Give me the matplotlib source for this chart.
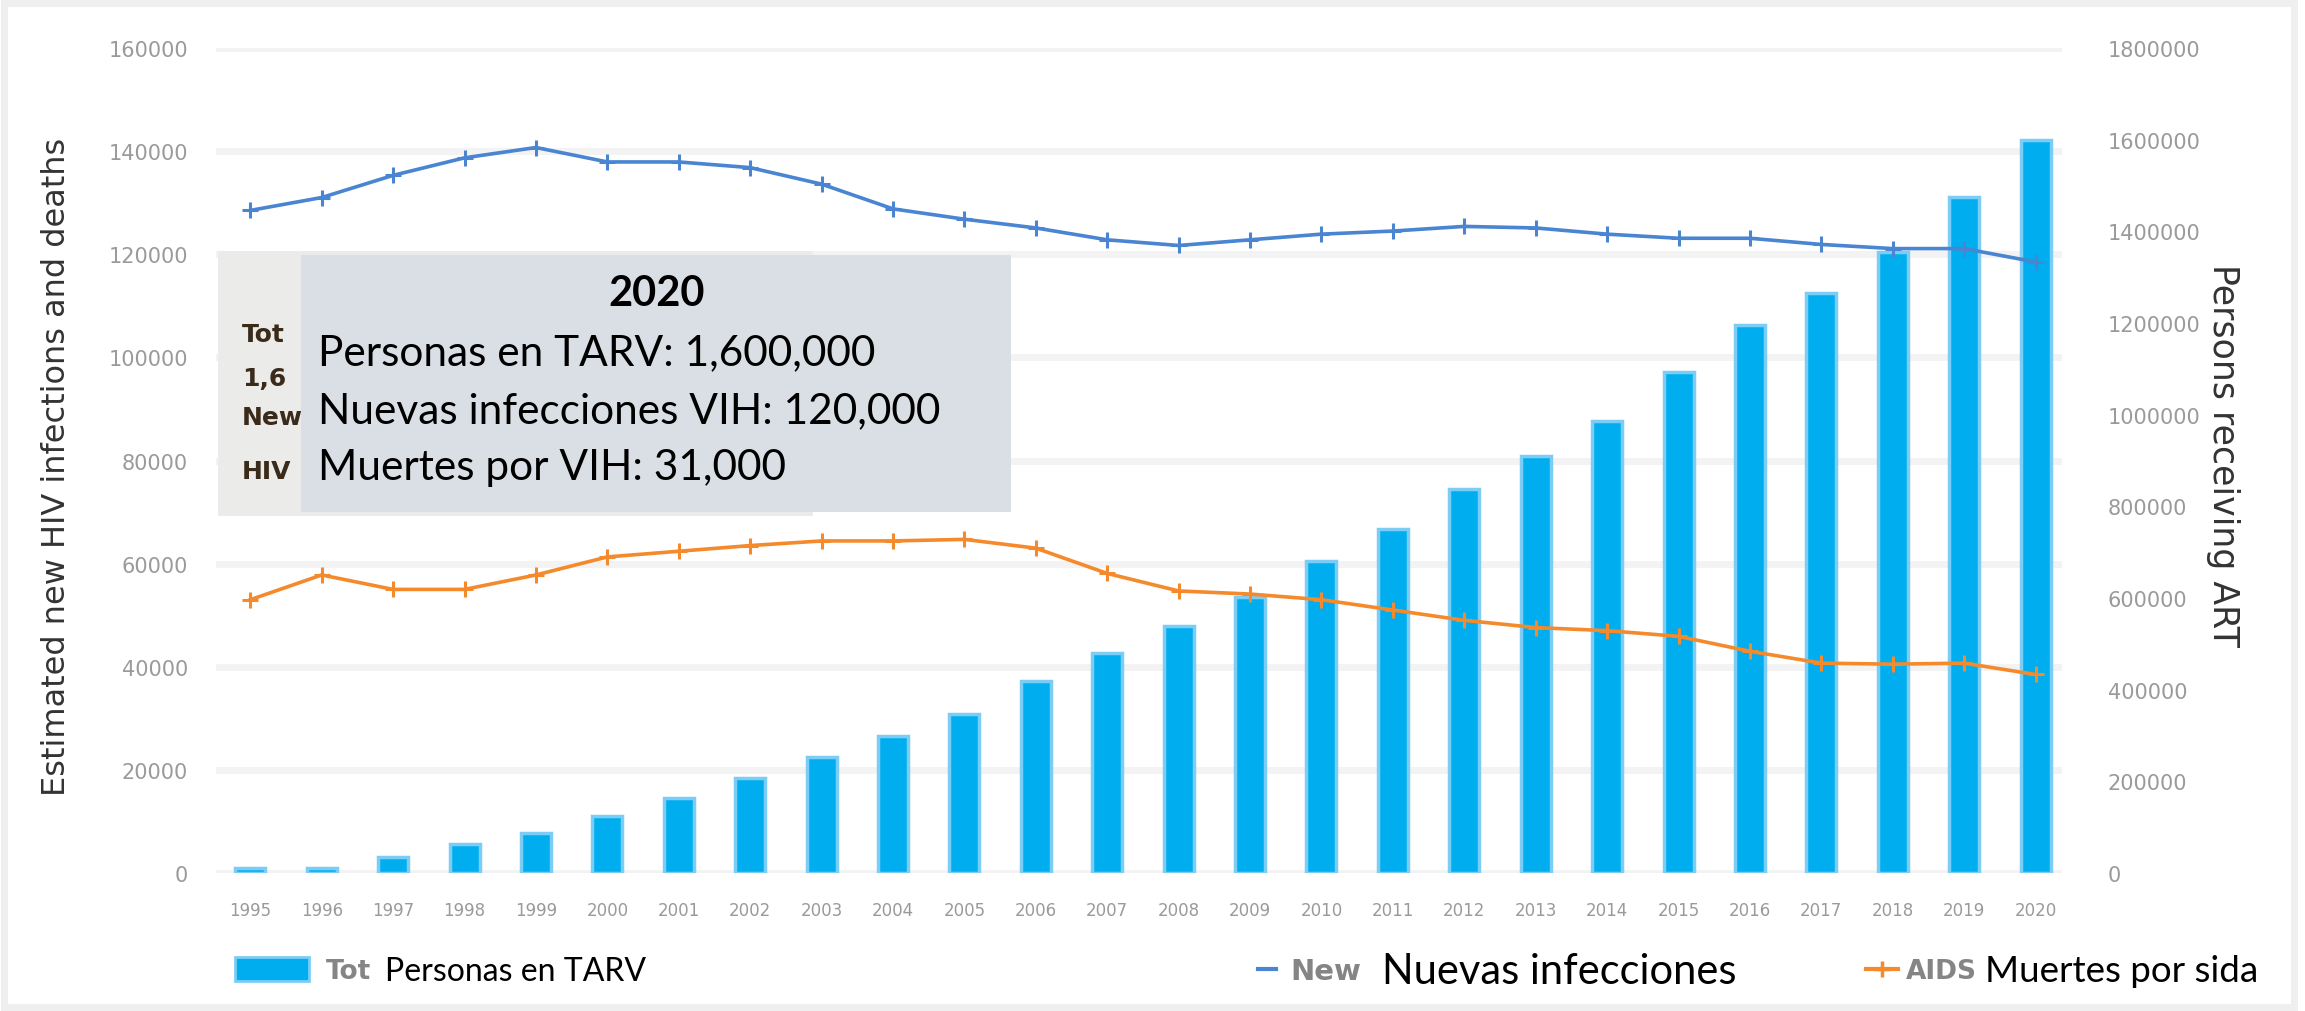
import matplotlib
matplotlib.use("Agg")
import matplotlib.pyplot as plt
from matplotlib.patches import Rectangle
from matplotlib.lines import Line2D
from matplotlib.transforms import blended_transform_factory

years = list(range(1995, 2021))
art_persons = [10000, 12000, 35000, 64000, 87000, 125000, 163000, 208000, 253000,
               298000, 346000, 420000, 481000, 538000, 603000, 680000, 750000, 837000,
               910000, 987000, 1093000, 1196000, 1266000, 1356000, 1474000, 1600000]
new_infections = [128500, 131000, 135300, 138700, 140700, 137900, 137900, 136800, 133600,
                  128800, 126800, 125100, 122800, 121700, 122800, 123900, 124500, 125400,
                  125100, 123900, 123100, 123100, 121900, 121100, 121100, 118500]
aids_deaths = [53000, 57800, 55000, 55000, 57800, 61300, 62400, 63500, 64400, 64400,
               64700, 63000, 58100, 54700, 54100, 53000, 51000, 49000, 47600, 47000,
               45900, 43000, 40700, 40500, 40700, 38500]

left_ticks = [0, 20000, 40000, 60000, 80000, 100000, 120000, 140000, 160000]
right_ticks = [0, 200000, 400000, 600000, 800000, 1000000, 1200000, 1400000, 1600000, 1800000]

left_label = "Estimated new HIV infections and deaths"
right_label = "Persons receiving ART"

tooltip_title = "2020"
tooltip_lines = ["Personas en TARV: 1,600,000",
                 "Nuevas infecciones VIH: 120,000",
                 "Muertes por VIH: 31,000"]
hidden_lines = ["Tot", "1,6", "New", "HIV"]

legend_labels = ["Personas en TARV", "Nuevas infecciones", "Muertes por sida"]
legend_hidden = ["Tot", "New", "AIDS"]

C_BAR = "#00aeef"
C_BAR_EDGE = "#7ccdf6"
C_NEW = "#4a85d2"
C_AIDS = "#f58a2c"
C_GRID = "#f3f3f3"
C_TICK = "#9a9a9a"

W, H = 2305, 1012
fig = plt.figure(figsize=(W / 100, H / 100), dpi=100)
fig.patch.set_facecolor("white")

def fx(px):
    return px / W

def fy(py):
    return 1 - py / H

axL = fig.add_axes([fx(216), fy(874), fx(2062) - fx(216), fy(49) - fy(874)])
axR = axL.twinx()

x = list(range(len(years)))

# bars on right axis (drawn beneath the lines)
axR.bar(x, art_persons, width=0.42, color=C_BAR, edgecolor=C_BAR_EDGE, linewidth=2.5, zorder=3)
axR.set_ylim(0, 1800000)
axR.set_yticks(right_ticks)
axR.set_yticklabels([str(t) for t in right_ticks])

# left-scale gridlines, placed under the bars
gtr = blended_transform_factory(axR.transAxes, axL.transData)
for t in left_ticks:
    axR.add_line(Line2D([0, 1], [t, t], transform=gtr, color=C_GRID, lw=5, zorder=1))

axL.set_zorder(axR.get_zorder() + 1)
axL.patch.set_visible(False)
axL.plot(x, new_infections, color=C_NEW, lw=2.6, marker="+", ms=11, mew=2.2, zorder=4)
axL.plot(x, aids_deaths, color=C_AIDS, lw=2.6, marker="+", ms=11, mew=2.2, zorder=4)
axL.set_ylim(0, 160000)
axL.set_yticks(left_ticks)
axL.set_yticklabels([str(t) for t in left_ticks])
axL.set_xlim(-0.48, 25.37)
axL.set_xticks(x)
axL.set_xticklabels([str(y) for y in years])

for ax in (axL, axR):
    for s in ax.spines.values():
        s.set_visible(False)
    ax.tick_params(length=0, colors=C_TICK, labelsize=15)
axL.tick_params(axis="y", pad=20)
axR.tick_params(axis="y", pad=33)
axL.tick_params(axis="x", pad=20, labelsize=12)

axL.set_ylabel(left_label, fontsize=23, color="#333333")
axL.yaxis.set_label_coords(-0.078, 0.493)
axR.set_ylabel(right_label, fontsize=25, color="#333333", rotation=270, va="bottom")
axR.yaxis.set_label_coords(1.078, 0.507)

# outer frame
fig.patches.append(Rectangle((fx(4), fy(1008)), fx(2294) - fx(4), fy(4) - fy(1008),
                             transform=fig.transFigure, fill=False,
                             edgecolor="#efefef", lw=5, zorder=0))

# tooltip: back box with partly hidden text, front box with Spanish text
fig.patches.append(Rectangle((fx(218), fy(517)), fx(813) - fx(218), fy(252) - fy(517),
                             transform=fig.transFigure, facecolor="#ebebe9",
                             edgecolor="none", zorder=5))
for t, yy in zip(hidden_lines, [335, 379, 418, 472]):
    fig.text(fx(242), fy(yy), t, fontsize=18, fontweight="bold", color="#3a2a1a",
             va="center", ha="left", zorder=6)
fig.patches.append(Rectangle((fx(301), fy(513)), fx(1011) - fx(301), fy(256) - fy(513),
                             transform=fig.transFigure, facecolor="#d9dfe4",
                             edgecolor="none", zorder=7))
fig.text(fx(657), fy(294), tooltip_title, fontsize=30, fontweight="bold",
         family=["Lato", "DejaVu Sans"], ha="center", va="center", zorder=8)
for t, yy in zip(tooltip_lines, [353, 411, 468]):
    fig.text(fx(318), fy(yy), t, fontsize=30.5, family=["Lato", "DejaVu Sans"],
             ha="left", va="center", zorder=8)

# legend
ly = 970
fig.patches.append(Rectangle((fx(235), fy(982)), fx(309) - fx(235), fy(958) - fy(982),
                             transform=fig.transFigure, facecolor=C_BAR,
                             edgecolor=C_BAR_EDGE, lw=2, zorder=5))
fig.lines.append(Line2D([fx(1258), fx(1276)], [fy(ly), fy(ly)], transform=fig.transFigure,
                        color=C_NEW, lw=3))
fig.lines.append(Line2D([fx(1866), fx(1898)], [fy(ly), fy(ly)], transform=fig.transFigure,
                        color=C_AIDS, lw=3))
fig.lines.append(Line2D([fx(1882)], [fy(ly)], transform=fig.transFigure,
                        color=C_AIDS, lw=0, marker="+", ms=12, mew=2.5))
for t, px, fs in zip(legend_hidden, [326, 1290, 1906], [19, 21, 19]):
    fig.text(fx(px), fy(ly + 2), t, fontsize=fs, color="#858585", fontweight="bold",
             va="center", ha="left")
for t, px, fs in zip(legend_labels, [385, 1382, 1985], [23, 30, 26.5]):
    fig.text(fx(px), fy(ly + 2), t, fontsize=fs, family=["Lato", "DejaVu Sans"],
             va="center", ha="left", color="black")

fig.savefig("out.png", dpi=100, facecolor="white")
